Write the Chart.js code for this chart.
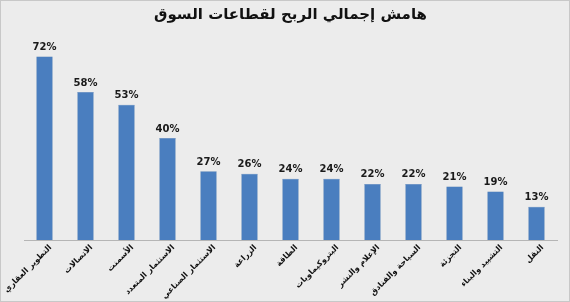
<!DOCTYPE html>
<html lang="ar">
<head>
    <meta charset="UTF-8">
    <title>هامش إجمالي الربح لقطاعات السوق</title>
    <script src="https://cdn.jsdelivr.net/npm/chart.js"></script>
    <style>
        body { margin: 0; background: #ececec; }
        #wrap { width: 570px; height: 302px; }
    </style>
</head>
<body>
    <div id="wrap"><canvas id="marginChart" width="570" height="302"></canvas></div>

    <script>
        const sectors = [
            'التطوير العقاري', 'الاتصالات', 'الأسمنت', 'الاستثمار المتعدد',
            'الاستثمار الصناعي', 'الزراعة', 'الطاقة', 'البتروكيماويات',
            'الإعلام والنشر', 'السياحة والفنادق', 'التجزئة', 'التشييد والبناء', 'النقل'
        ];
        const margins = [72, 58, 53, 40, 27, 26, 24, 24, 22, 22, 21, 19, 13];

        // background + thin frame
        const backdrop = {
            id: 'backdrop',
            beforeDraw(chart) {
                const c = chart.ctx;
                c.save();
                c.fillStyle = '#ececec';
                c.fillRect(0, 0, chart.width, chart.height);
                c.strokeStyle = '#c8c8c8';
                c.lineWidth = 1;
                c.strokeRect(0.5, 0.5, chart.width - 1, chart.height - 1);
                c.restore();
            }
        };

        // percentage labels above bars
        const valueLabels = {
            id: 'valueLabels',
            afterDatasetsDraw(chart) {
                const c = chart.ctx;
                const meta = chart.getDatasetMeta(0);
                c.save();
                c.font = 'bold 10px "DejaVu Sans"';
                c.fillStyle = '#1a1a1a';
                c.textAlign = 'center';
                c.textBaseline = 'bottom';
                meta.data.forEach((bar, i) => {
                    c.fillText(margins[i] + '%', bar.x, bar.y - 4);
                });
                c.restore();
            }
        };

        const ctx = document.getElementById('marginChart').getContext('2d');
        new Chart(ctx, {
            type: 'bar',
            data: {
                labels: sectors,
                datasets: [{
                    data: margins,
                    backgroundColor: '#4a7ebf',
                    borderColor: '#3f6fab',
                    borderWidth: 0.5,
                    categoryPercentage: 1,
                    barPercentage: 0.4
                }]
            },
            options: {
                responsive: false,
                animation: false,
                layout: { padding: { left: 24, right: 13, top: 0, bottom: 0 } },
                plugins: {
                    legend: { display: false },
                    tooltip: { enabled: false },
                    title: {
                        display: true,
                        text: 'هامش إجمالي الربح لقطاعات السوق',
                        color: '#111',
                        font: { family: 'DejaVu Sans', size: 15, weight: 'bold' },
                        padding: { top: 6, bottom: 12 }
                    }
                },
                scales: {
                    x: {
                        grid: { display: false, drawTicks: false },
                        border: { display: true, color: '#b5b5b5', width: 1 },
                        ticks: {
                            color: '#111',
                            font: { family: 'DejaVu Sans', size: 8, weight: 'bold' },
                            minRotation: 45,
                            maxRotation: 45,
                            autoSkip: false,
                            padding: 3,
                            labelOffset: 6
                        },
                        afterFit(scale) {
                            scale.height = 62;
                            scale.paddingLeft = 0;
                            scale.paddingRight = 0;
                        }
                    },
                    y: {
                        display: false,
                        min: 0,
                        max: 80
                    }
                }
            },
            plugins: [backdrop, valueLabels]
        });
    </script>
</body>
</html>
